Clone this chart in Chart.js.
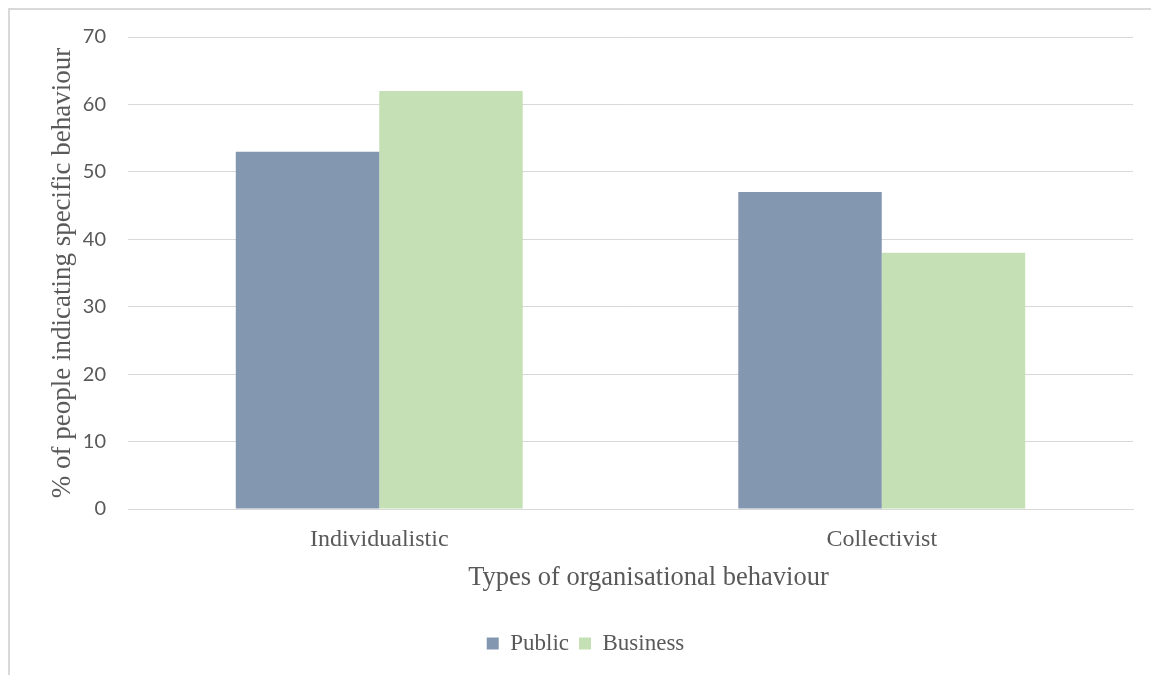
<!DOCTYPE html>
<html>
<head>
<meta charset="utf-8">
<script src="https://cdn.jsdelivr.net/npm/chart.js"></script>
<style>
  body { margin: 0; background: #fff; }
  #wrap { position: relative; width: 1151px; height: 675px; overflow: hidden; }
  #frame { position: absolute; left: 8px; top: 8px; width: 1200px; height: 700px;
           border-left: 2px solid #d9d9d9; border-top: 2px solid #d9d9d9; box-sizing: border-box; }
  canvas { position: absolute; left: 0; top: 0; }
</style>
</head>
<body>
<div id="wrap">
  <div id="frame"></div>
  <canvas id="Graph" width="1151" height="675"></canvas>
</div>
<script>
const categories = ["Individualistic", "Collectivist"];
const publicValues = [53, 47];
const businessValues = [62, 38];
const xTitle = "Types of organisational behaviour";
const yTitle = "% of people indicating specific behaviour";

const publicColor = "#8497b0";
const businessColor = "#c5e0b4";
const textColor = "#595959";
const serif = "'Liberation Serif', 'Times New Roman', serif";

// x title sits a bit right of the plot centre in the original, so draw it by hand
const xTitlePlugin = {
    id: "xTitle",
    afterDraw(chart) {
        const ctx = chart.ctx;
        const x = chart.scales.x;
        ctx.save();
        ctx.font = "26.5px " + serif;
        ctx.fillStyle = textColor;
        ctx.textAlign = "center";
        ctx.textBaseline = "middle";
        ctx.fillText(xTitle, (x.left + x.right) / 2 + 18, x.bottom - 44);
        ctx.restore();
    }
};

new Chart("Graph", {
    type: "bar",
    data: {
        labels: categories,
        datasets: [
            { label: "Public", data: publicValues, backgroundColor: publicColor },
            { label: "Business", data: businessValues, backgroundColor: businessColor }
        ]
    },
    plugins: [xTitlePlugin],
    options: {
        responsive: false,
        animation: false,
        layout: { padding: { top: 37, right: 18, bottom: 10, left: 38 } },
        datasets: { bar: { categoryPercentage: 0.571, barPercentage: 1.0 } },
        plugins: {
            legend: {
                position: "bottom",
                labels: {
                    font: { family: serif, size: 23 },
                    color: textColor,
                    boxWidth: 12,
                    boxHeight: 12,
                    padding: 10
                }
            },
            tooltip: { enabled: false }
        },
        scales: {
            x: {
                grid: { display: false, drawTicks: false },
                border: { color: "#d9d9d9", width: 1 },
                ticks: { font: { family: serif, size: 24 }, color: textColor, padding: 16 },
                afterFit: (scale) => { scale.height = 113; }
            },
            y: {
                min: 0,
                max: 70,
                ticks: { stepSize: 10, font: { family: "Lato", size: 20 }, color: textColor, padding: 22 },
                grid: { color: "#d9d9d9", lineWidth: 1, drawTicks: false },
                border: { display: false },
                title: {
                    display: true,
                    text: yTitle,
                    font: { family: serif, size: 27 },
                    color: textColor,
                    padding: { top: 9, bottom: 9 }
                },
                afterFit: (scale) => { scale.width = 128 - 38; }
            }
        }
    }
});
</script>
</body>
</html>
